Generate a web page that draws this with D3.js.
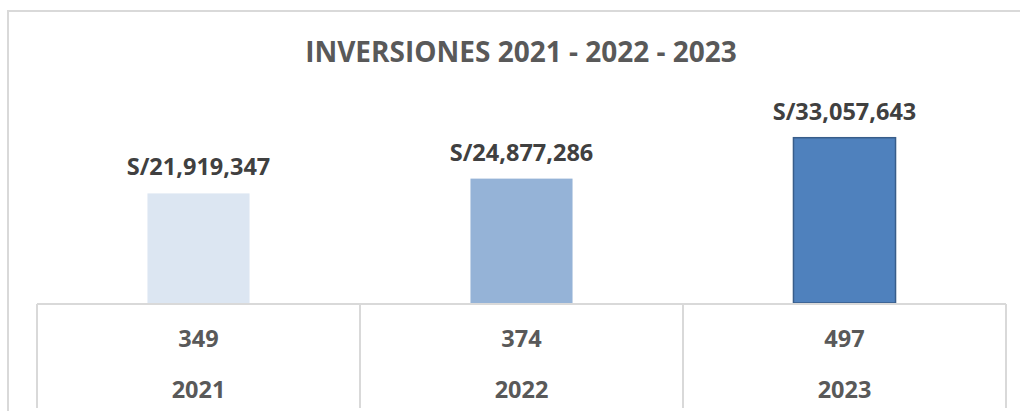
<!DOCTYPE html>
<html>
<head>
<meta charset="utf-8">
<script src="https://cdn.jsdelivr.net/npm/d3@7"></script>
<style>
  body { margin: 0; background: #fff; }
  text { font-family: "Open Sans", sans-serif; font-weight: bold; }
</style>
</head>
<body>
<script>
// data
const years = ['2021', '2022', '2023']
const amounts = [21919347, 24877286, 33057643]
const projects = [349, 374, 497]
const barColors = ['#dce6f2', '#95b3d7', '#4f81bd']

const m = { width: 1020, height: 411 }

const svg = d3.select('body').append('svg')
    .attr('width', m.width)
    .attr('height', m.height)

// chart frame (only top and left visible)
svg.append('path')
    .attr('d', 'M8,411 V11 H1020')
    .attr('fill', 'none')
    .attr('stroke', '#d9d9d9')
    .attr('stroke-width', 2)

svg.append('text')
    .attr('x', 521)
    .attr('y', 62)
    .attr('text-anchor', 'middle')
    .attr('font-size', 28)
    .attr('fill', '#595959')
    .text('INVERSIONES 2021 - 2022 - 2023')

const x = d3.scaleBand()
    .domain(years)
    .range([37, 1006])

const y = d3.scaleLinear()
    .domain([0, 40000000])
    .range([303, 103])

const bw = x.bandwidth() * 0.316
const fmt = d3.format(',')

const g = svg.append('g')

g.selectAll('.bar')
    .data(years)
    .enter()
    .append('rect')
        .attr('x', d => x(d) + (x.bandwidth() - bw) / 2)
        .attr('y', (d, i) => y(amounts[i]))
        .attr('width', bw)
        .attr('height', (d, i) => y(0) - y(amounts[i]))
        .attr('fill', (d, i) => barColors[i])
        .attr('stroke', (d, i) => i === 2 ? '#385d8a' : 'none')
        .attr('stroke-width', 1.5)

g.selectAll('.lbl')
    .data(years)
    .enter()
    .append('text')
        .attr('x', d => x(d) + x.bandwidth() / 2)
        .attr('y', (d, i) => y(amounts[i]) - 18)
        .attr('text-anchor', 'middle')
        .attr('font-size', 23.5)
        .attr('fill', '#404040')
        .text((d, i) => 'S/' + fmt(amounts[i]))

// data table under the axis
const grid = svg.append('g')
    .attr('stroke', '#d9d9d9')
    .attr('stroke-width', 2)

grid.append('line')
    .attr('x1', 37).attr('x2', 1006)
    .attr('y1', y(0) + 1).attr('y2', y(0) + 1)

grid.selectAll('.vl')
    .data(years.concat(['end']))
    .enter()
    .append('line')
        .attr('x1', d => d === 'end' ? 1006 : x(d))
        .attr('x2', d => d === 'end' ? 1006 : x(d))
        .attr('y1', y(0) + 1)
        .attr('y2', 408)

svg.selectAll('.cnt')
    .data(years)
    .enter()
    .append('text')
        .attr('x', d => x(d) + x.bandwidth() / 2)
        .attr('y', 347)
        .attr('text-anchor', 'middle')
        .attr('font-size', 23.5)
        .attr('fill', '#595959')
        .text((d, i) => projects[i])

svg.selectAll('.yr')
    .data(years)
    .enter()
    .append('text')
        .attr('x', d => x(d) + x.bandwidth() / 2)
        .attr('y', 398)
        .attr('text-anchor', 'middle')
        .attr('font-size', 23.5)
        .attr('fill', '#595959')
        .text(d => d)
</script>
</body>
</html>
